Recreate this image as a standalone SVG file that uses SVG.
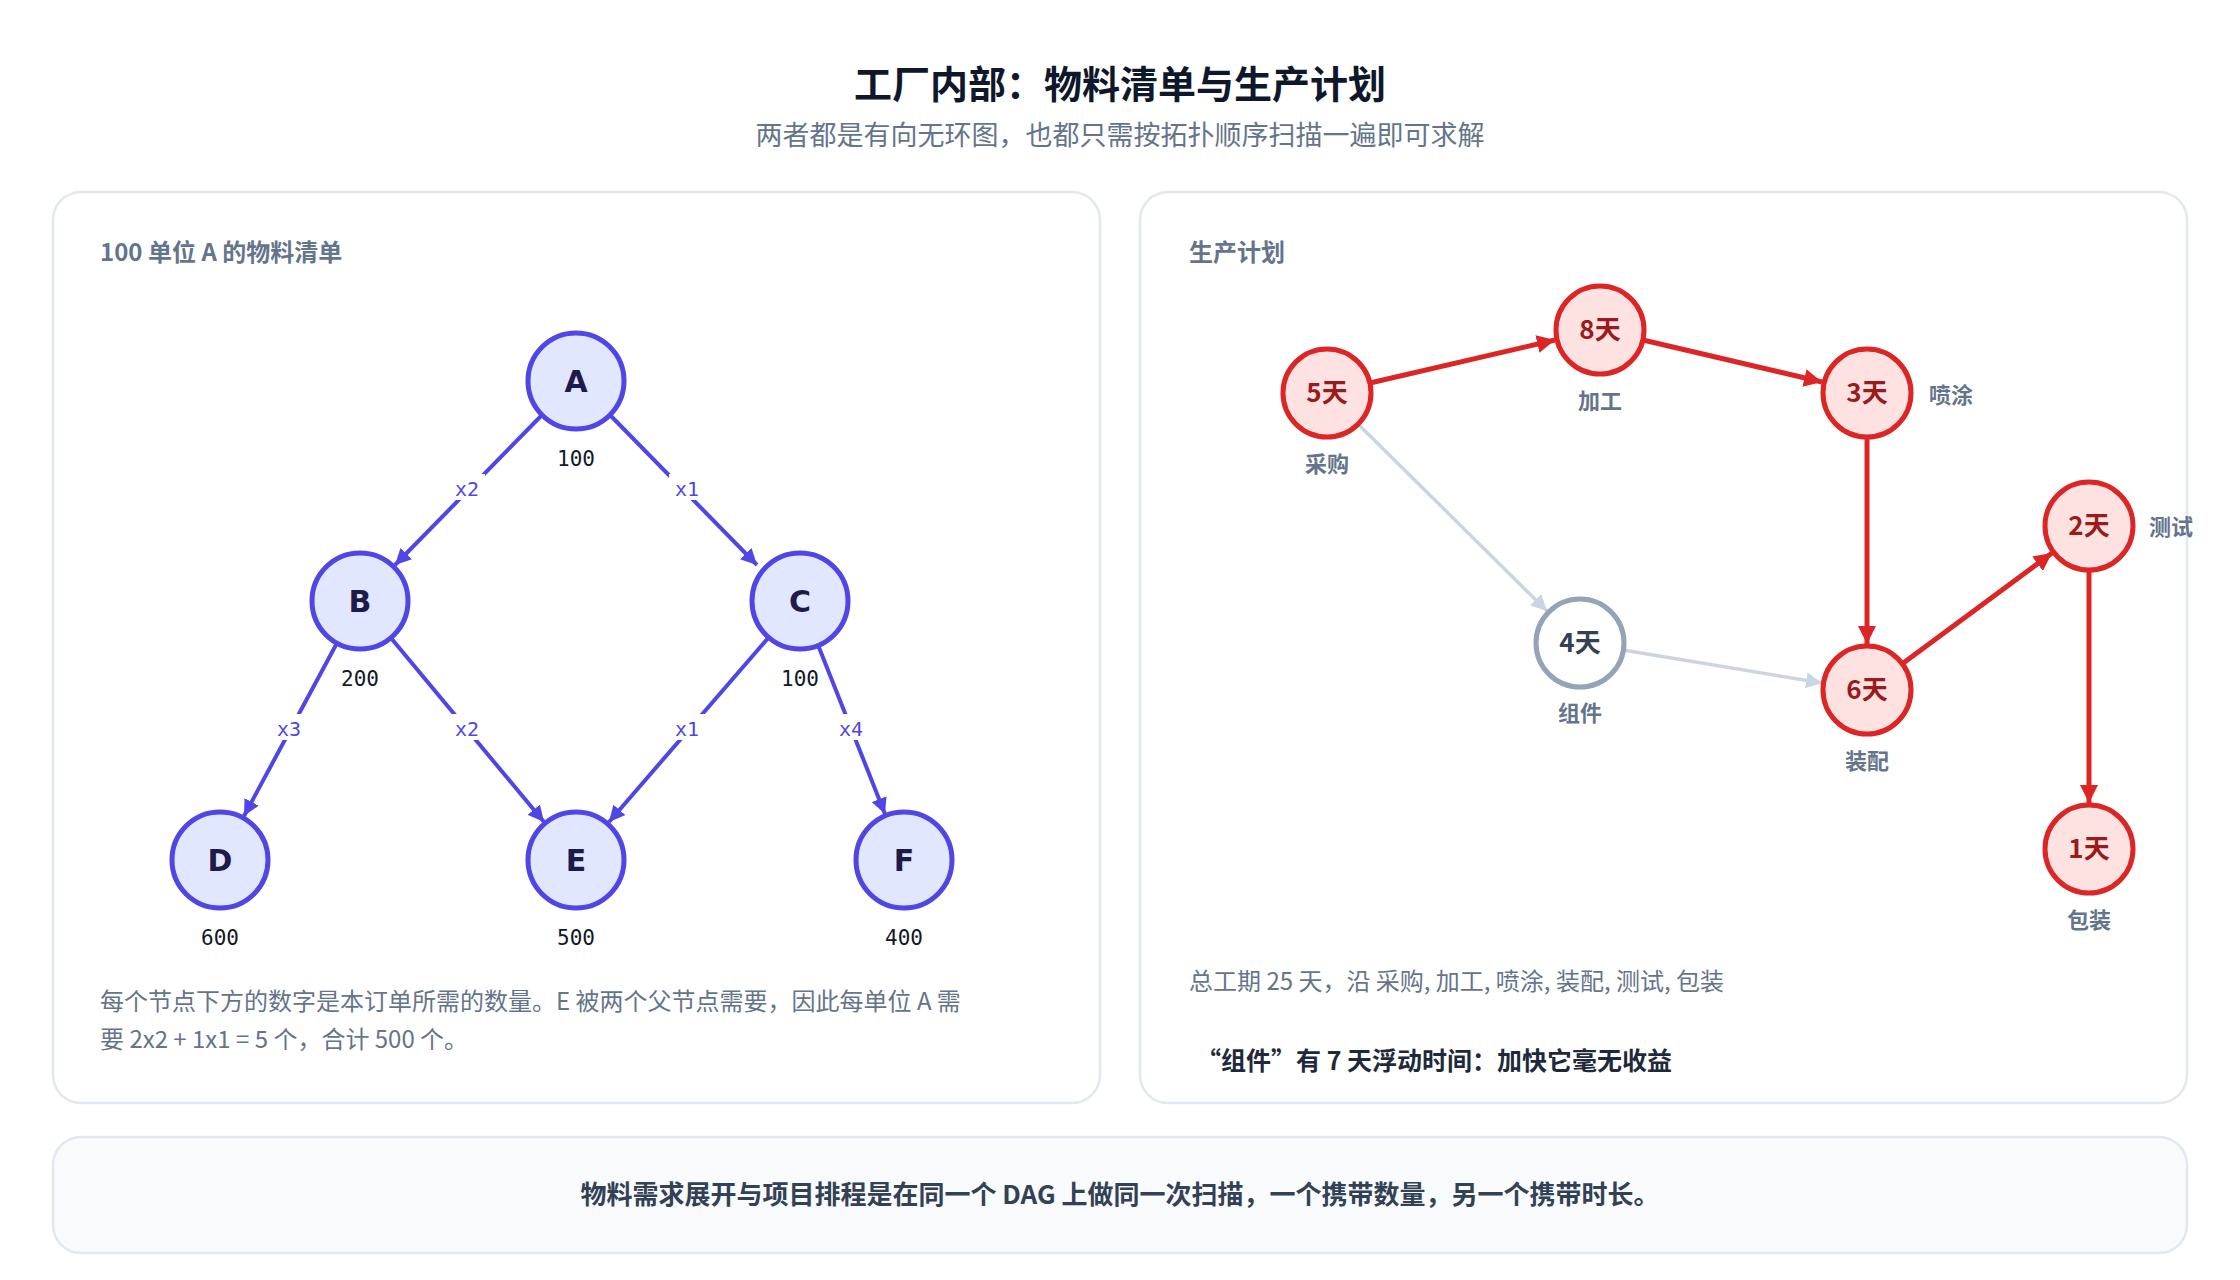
<svg xmlns="http://www.w3.org/2000/svg" width="2240" height="1280" viewBox="0 0 2240 1280">
<style>
text{font-family:"Noto Sans CJK SC","Noto Sans",sans-serif}
.panel{fill:#fff;stroke:#e2e8f0;stroke-width:2.5}
.ptitle{font-size:24px;font-weight:700;fill:#64748b}
.bn{fill:#e0e7ff;stroke:#4f46e5;stroke-width:5}
.bl{font-family:"DejaVu Sans","Noto Sans",sans-serif;font-size:30px;font-weight:700;fill:#1e1b4b;text-anchor:middle}
.qty{font-family:"DejaVu Sans Mono",monospace;font-size:21px;fill:#111827;text-anchor:middle}
.be{stroke:#4f46e5;stroke-width:4;fill:none;marker-end:url(#ab)}
.el{font-family:"DejaVu Sans Mono",monospace;font-size:20px;fill:#4f46e5;text-anchor:middle}
.elbg{fill:#fff}
.rn{fill:#fee2e2;stroke:#dc2626;stroke-width:5}
.rt{font-size:26px;font-weight:700;fill:#991b1b;text-anchor:middle}
.re{stroke:#dc2626;stroke-width:5;fill:none;marker-end:url(#ar)}
.ge{stroke:#cbd5e1;stroke-width:3.5;fill:none;marker-end:url(#ag)}
.nl{font-size:22px;font-weight:700;fill:#64748b}
.body{font-size:24px;fill:#64748b}
</style>
<defs>
<marker id="ab" markerUnits="userSpaceOnUse" markerWidth="18" markerHeight="16" refX="16" refY="8" orient="auto"><path d="M0,0 L16,8 L0,16 z" fill="#4f46e5"/></marker>
<marker id="ar" markerUnits="userSpaceOnUse" markerWidth="20" markerHeight="18" refX="18" refY="9" orient="auto"><path d="M0,0 L18,9 L0,18 z" fill="#dc2626"/></marker>
<marker id="ag" markerUnits="userSpaceOnUse" markerWidth="18" markerHeight="16" refX="16" refY="8" orient="auto"><path d="M0,0 L16,8 L0,16 z" fill="#cbd5e1"/></marker>
</defs>
<rect width="2240" height="1280" fill="#fff"/>
<text x="1120" y="98" text-anchor="middle" font-size="38" font-weight="700" fill="#0f172a">工厂内部：物料清单与生产计划</text>
<text x="1120" y="145" text-anchor="middle" font-size="27" fill="#64748b">两者都是有向无环图，也都只需按拓扑顺序扫描一遍即可求解</text>

<rect class="panel" x="53" y="192" width="1047" height="911" rx="28"/>
<rect class="panel" x="1140" y="192" width="1047" height="911" rx="28"/>
<rect x="53" y="1137" width="2134" height="116" rx="28" fill="#f8fafc" stroke="#e2e8f0" stroke-width="2.5"/>
<text x="1120" y="1204" text-anchor="middle" font-size="26" font-weight="700" fill="#334155">物料需求展开与项目排程是在同一个 DAG 上做同一次扫描，一个携带数量，另一个携带时长。</text>

<text class="ptitle" x="100" y="261">100 单位 A 的物料清单</text>
<text class="ptitle" x="1189" y="261">生产计划</text>

<g id="connectors">
<line class="be" x1="542" y1="415" x2="395" y2="565"/>
<line class="be" x1="610" y1="415" x2="757" y2="565"/>
<line class="be" x1="337" y1="643" x2="244" y2="816"/>
<line class="be" x1="391" y1="638" x2="544" y2="822"/>
<line class="be" x1="769" y1="637" x2="609" y2="822"/>
<line class="be" x1="818" y1="645" x2="885" y2="814"/>
<rect class="elbg" x="449" y="474" width="36" height="26"/><text class="el" x="467" y="496">x2</text>
<rect class="elbg" x="669" y="474" width="36" height="26"/><text class="el" x="687" y="496">x1</text>
<rect class="elbg" x="271" y="714" width="36" height="26"/><text class="el" x="289" y="736">x3</text>
<rect class="elbg" x="449" y="714" width="36" height="26"/><text class="el" x="467" y="736">x2</text>
<rect class="elbg" x="669" y="714" width="36" height="26"/><text class="el" x="687" y="736">x1</text>
<rect class="elbg" x="833" y="714" width="36" height="26"/><text class="el" x="851" y="736">x4</text>

<line class="ge" x1="1358" y1="424" x2="1547" y2="611"/>
<line class="ge" x1="1623" y1="650" x2="1822" y2="683"/>
<line class="re" x1="1370" y1="383" x2="1555" y2="340"/>
<line class="re" x1="1643" y1="340" x2="1822" y2="382"/>
<line class="re" x1="1867" y1="437" x2="1867" y2="644"/>
<line class="re" x1="1902" y1="664" x2="2052" y2="553"/>
<line class="re" x1="2089" y1="570" x2="2089" y2="803"/>
</g>

<g id="A"><circle class="bn" cx="576" cy="381" r="48"/><text class="bl" x="576" y="392">A</text><text class="qty" x="576" y="466">100</text></g>
<g id="B"><circle class="bn" cx="360" cy="601" r="48"/><text class="bl" x="360" y="612">B</text><text class="qty" x="360" y="686">200</text></g>
<g id="C"><circle class="bn" cx="800" cy="601" r="48"/><text class="bl" x="800" y="612">C</text><text class="qty" x="800" y="686">100</text></g>
<g id="D"><circle class="bn" cx="220" cy="860" r="48"/><text class="bl" x="220" y="871">D</text><text class="qty" x="220" y="945">600</text></g>
<g id="E"><circle class="bn" cx="576" cy="860" r="48"/><text class="bl" x="576" y="871">E</text><text class="qty" x="576" y="945">500</text></g>
<g id="F"><circle class="bn" cx="904" cy="860" r="48"/><text class="bl" x="904" y="871">F</text><text class="qty" x="904" y="945">400</text></g>

<text class="body" x="100" y="1010">每个节点下方的数字是本订单所需的数量。E 被两个父节点需要，因此每单位 A 需</text>
<text class="body" x="100" y="1048">要 2x2 + 1x1 = 5 个，合计 500 个。</text>

<g id="p1"><circle class="rn" cx="1327" cy="393" r="44"/><text class="rt" x="1327" y="402">5天</text><text class="nl" x="1327" y="472" text-anchor="middle">采购</text></g>
<g id="p2"><circle class="rn" cx="1600" cy="330" r="44"/><text class="rt" x="1600" y="339">8天</text><text class="nl" x="1600" y="409" text-anchor="middle">加工</text></g>
<g id="p3"><circle class="rn" cx="1867" cy="393" r="44"/><text class="rt" x="1867" y="402">3天</text><text class="nl" x="1929" y="403">喷涂</text></g>
<g id="p4"><circle cx="1580" cy="643" r="44" fill="#fff" stroke="#94a3b8" stroke-width="5"/><text class="rt" x="1580" y="652" fill="#334155" style="fill:#334155">4天</text><text class="nl" x="1580" y="721" text-anchor="middle">组件</text></g>
<g id="p5"><circle class="rn" cx="1867" cy="690" r="44"/><text class="rt" x="1867" y="699">6天</text><text class="nl" x="1867" y="769" text-anchor="middle">装配</text></g>
<g id="p6"><circle class="rn" cx="2089" cy="526" r="44"/><text class="rt" x="2089" y="535">2天</text><text class="nl" x="2149" y="535">测试</text></g>
<g id="p7"><circle class="rn" cx="2089" cy="849" r="44"/><text class="rt" x="2089" y="858">1天</text><text class="nl" x="2089" y="928" text-anchor="middle">包装</text></g>

<text class="body" x="1189" y="990">总工期 25 天，沿 采购, 加工, 喷涂, 装配, 测试, 包装</text>
<text x="1196" y="1070" font-size="25" font-weight="700" fill="#1e293b">“组件”有 7 天浮动时间：加快它毫无收益</text>
</svg>
